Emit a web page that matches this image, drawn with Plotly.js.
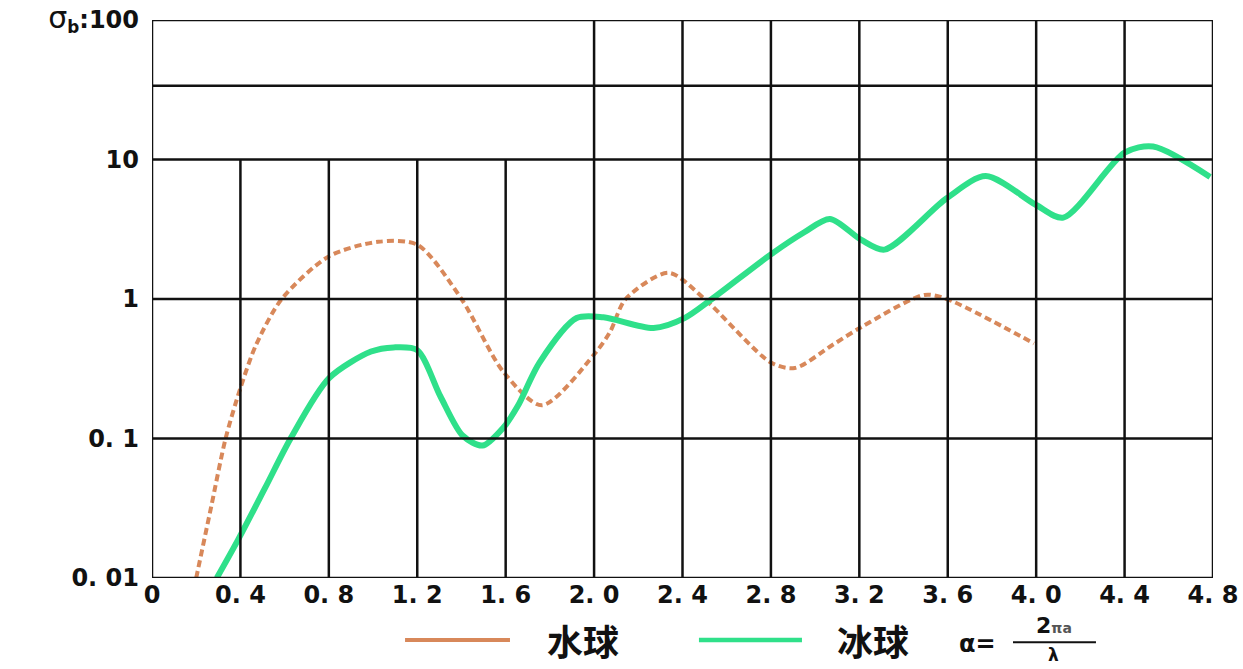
<!DOCTYPE html>
<html>
<head>
<meta charset="utf-8">
<script src="https://cdn.plot.ly/plotly-3.0.1.min.js"></script>
<style>html,body{margin:0;padding:0;background:#fff;}#chart{width:1243px;height:669px;}</style>
</head>
<body>
<div id="chart"></div>
<script>
// 水球 (water sphere) backscatter cross-section
const waterX = [0.20, 0.267, 0.333, 0.40, 0.471, 0.587, 0.80, 1.023, 1.20, 1.40, 1.59, 1.764, 2.00, 2.072, 2.143, 2.337, 2.50, 2.80, 2.908, 3.08, 3.21, 3.495, 3.595, 3.99];
const waterY = [0.01, 0.032, 0.10, 0.23, 0.47, 1.0, 2.02, 2.57, 2.45, 1.0, 0.30, 0.173, 0.40, 0.58, 1.0, 1.54, 1.0, 0.35, 0.32, 0.47, 0.63, 1.07, 1.0, 0.48];
// 冰球 (ice sphere)
const iceX = [0.293, 0.391, 0.511, 0.627, 0.80, 0.991, 1.093, 1.20, 1.305, 1.405, 1.495, 1.59, 1.654, 1.753, 1.921, 2.042, 2.269, 2.409, 2.533, 2.80, 2.951, 3.067, 3.209, 3.314, 3.595, 3.772, 4.00, 4.123, 4.40, 4.529, 4.787];
const iceY = [0.01, 0.019, 0.044, 0.10, 0.27, 0.42, 0.45, 0.43, 0.20, 0.105, 0.089, 0.12, 0.17, 0.35, 0.73, 0.74, 0.62, 0.73, 1.0, 2.09, 3.01, 3.75, 2.65, 2.26, 5.27, 7.62, 4.72, 3.83, 11.2, 12.4, 7.5];

const xTickVals = [0, 0.4, 0.8, 1.2, 1.6, 2.0, 2.4, 2.8, 3.2, 3.6, 4.0, 4.4, 4.8];
const xTickText = ["0", "0.\u00a04", "0.\u00a08", "1.\u00a02", "1.\u00a06", "2.\u00a00", "2.\u00a04", "2.\u00a08", "3.\u00a02", "3.\u00a06", "4.\u00a00", "4.\u00a04", "4.\u00a08"];
const yTickVals = [0.01, 0.1, 1, 10, 100];
const yTickText = ["0.\u00a001", "0.\u00a01", "1", "10", "<span style='font-weight:normal;font-size:30px'>σ</span><sub>b</sub>:100"];
const legendNames = ["水球", "冰球"];

const waterColor = "#d8885a";
const iceColor = "#2fe08a";
const gridColor = "#111";
const gridW = 2.5;

const shapes = [];
// horizontal grid lines
[0.01, 0.1, 1, 10, 33.8, 100].forEach(v => shapes.push({type:'line', xref:'x', yref:'y', x0:0, x1:4.8, y0:v, y1:v, line:{color:gridColor, width:gridW}}));
// vertical grid lines (short ones stop at 10)
xTickVals.forEach(v => {
  const top = (v === 0 || v >= 2.0) ? 100 : 10;
  shapes.push({type:'line', xref:'x', yref:'y', x0:v, x1:v, y0:0.01, y1:top, line:{color:gridColor, width:gridW}});
});
// legend sample lines
shapes.push({type:'line', xref:'paper', yref:'paper', x0:0.2385, x1:0.3374, y0:-0.111, y1:-0.111, line:{color:waterColor, width:4}});
shapes.push({type:'line', xref:'paper', yref:'paper', x0:0.5155, x1:0.6126, y0:-0.111, y1:-0.111, line:{color:iceColor, width:4.5}});
// fraction bar
shapes.push({type:'line', xref:'paper', yref:'paper', x0:0.8115, x1:0.8897, y0:-0.115, y1:-0.115, line:{color:'#111', width:2}});

const bold = {family:'DejaVu Sans, sans-serif', size:24, color:'#111', weight:'bold'};
const cjk = {family:'Noto Sans CJK SC, sans-serif', size:36, color:'#111', weight:'bold'};

const annotations = [
  {xref:'paper', yref:'paper', x:0.4062, y:-0.111, text:legendNames[0], showarrow:false, font:cjk, xanchor:'center', yanchor:'middle'},
  {xref:'paper', yref:'paper', x:0.6795, y:-0.111, text:legendNames[1], showarrow:false, font:cjk, xanchor:'center', yanchor:'middle'},
  {xref:'paper', yref:'paper', x:0.7785, y:-0.118, text:'α=', showarrow:false, font:{family:'DejaVu Sans, sans-serif', size:24, color:'#111', weight:'bold'}, xanchor:'center', yanchor:'middle'},
  {xref:'paper', yref:'paper', x:0.850, y:-0.085, text:'2<span style="font-size:14px;color:#555">πa</span>', showarrow:false, font:{family:'DejaVu Sans, sans-serif', size:22, color:'#111', weight:'bold'}, xanchor:'center', yanchor:'middle'},
  {xref:'paper', yref:'paper', x:0.850, y:-0.138, text:'λ', showarrow:false, font:{family:'DejaVu Sans, sans-serif', size:17, color:'#111', weight:'bold'}, xanchor:'center', yanchor:'middle'}
];

const data = [
  {x: waterX, y: waterY, type:'scatter', mode:'lines', name:legendNames[0], line:{color:waterColor, width:4, dash:'7px,4px', shape:'spline', smoothing:0.8}},
  {x: iceX, y: iceY, type:'scatter', mode:'lines', name:legendNames[1], line:{color:iceColor, width:6, shape:'spline', smoothing:0.8}}
];

const layout = {
  width:1243, height:669,
  margin:{l:152, r:30, t:20, b:91},
  paper_bgcolor:'#fff', plot_bgcolor:'#fff',
  showlegend:false,
  xaxis:{range:[0,4.8], tickvals:xTickVals, ticktext:xTickText, showgrid:false, zeroline:false, showline:false, ticks:'', tickfont:bold, ticklabelstandoff:0},
  yaxis:{type:'log', range:[-2,2], tickvals:yTickVals, ticktext:yTickText, showgrid:false, zeroline:false, showline:false, ticks:'', tickfont:bold, ticklabelstandoff:12},
  shapes:shapes,
  annotations:annotations
};

Plotly.newPlot('chart', data, layout, {staticPlot:true});
</script>
</body>
</html>
